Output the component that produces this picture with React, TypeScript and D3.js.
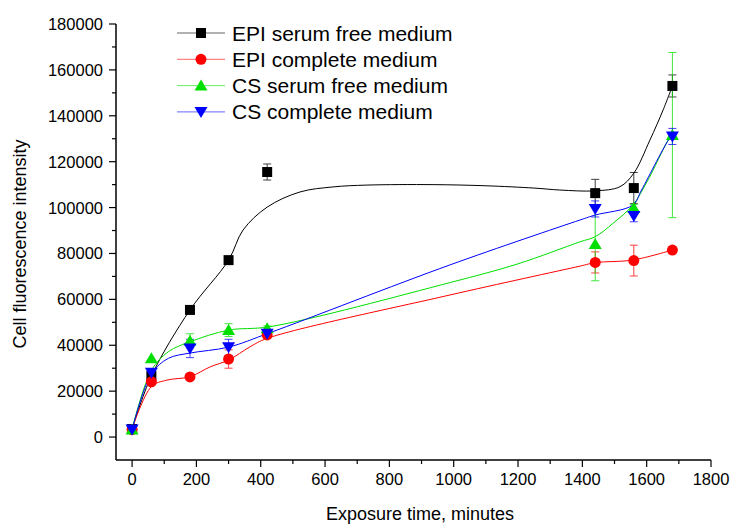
import React from "react";
import * as d3 from "d3";

// ---- data ----
const times = [0, 60, 180, 300, 420, 1440, 1560, 1680];

const epiSerumFree = [3500, 26600, 55400, 77100, 115500, 106300, 108500, 153000];
const epiSerumFreeErr = [0, 0, 0, 0, 3500, 6000, 6800, 4800];
const epiComplete = [3200, 24100, 26200, 34000, 44500, 76100, 76900, 81500];
const epiCompleteErr = [0, 0, 1000, 4000, 1500, 4600, 6700, 0];
const csSerumFree = [3300, 34300, 42000, 46600, 47400, 84100, 99800, 131600];
const csSerumFreeErr = [0, 0, 3000, 2800, 1000, 16000, 1500, 36000];
const csComplete = [3300, 28000, 38600, 39100, 45000, 99400, 96300, 131000];
const csCompleteErr = [0, 0, 4000, 3500, 1500, 3500, 2500, 3500];

// smoothed fit curves as drawn in the reference
const epiSerumFreeFitX = [0, 60, 180, 300, 345, 420, 522, 625, 730, 936, 1100, 1250, 1330, 1440, 1517, 1560, 1610, 1651, 1680];
const epiSerumFreeFitY = [3500, 26600, 55400, 77100, 90200, 100200, 106800, 109000, 109800, 110000, 109500, 108500, 107650, 107300, 109100, 115000, 129400, 142500, 153000];
const epiCompleteFitX = [0, 60, 108, 180, 243, 300, 367, 420, 988, 1393, 1440, 1557, 1680];
const epiCompleteFitY = [3500, 22000, 24800, 26300, 30600, 33550, 39350, 43000, 61900, 74500, 76000, 77150, 81500];
const csSerumFreeFitX = [0, 60, 113, 180, 300, 429, 988, 1200, 1393, 1440, 1495, 1557, 1604, 1672, 1680];
const csSerumFreeFitY = [3500, 29000, 37200, 41500, 46600, 48100, 67300, 75500, 85100, 87300, 93100, 101100, 112000, 130600, 131600];
const csCompleteFitX = [0, 60, 113, 180, 300, 429, 988, 1393, 1440, 1557, 1584, 1672, 1680];
const csCompleteFitY = [3300, 27500, 34300, 36600, 39200, 45500, 75000, 94600, 96750, 101100, 107650, 130200, 131000];

const seriesNames = ["EPI serum free medium", "EPI complete medium", "CS serum free medium", "CS complete medium"];
const seriesColors = ["#000000", "#ff0000", "#00e000", "#0000ff"];
const seriesSymbols = ["square", "circle", "triangle", "triangleDown"];

const xTicks = [0, 200, 400, 600, 800, 1000, 1200, 1400, 1600, 1800];
const xMinor = [100, 300, 500, 700, 900, 1100, 1300, 1500, 1700];
const yTicks = [0, 20000, 40000, 60000, 80000, 100000, 120000, 140000, 160000, 180000];
const yMinor = [10000, 30000, 50000, 70000, 90000, 110000, 130000, 150000, 170000];

const xTitle = "Exposure time, minutes";
const yTitle = "Cell fluorescence intensity";

const W = 732;
const H = 524;
const FONT = "Liberation Sans, Arial, sans-serif";

function Marker({ kind, cx, cy, color }: { kind: string; cx: number; cy: number; color: string }) {
  if (kind === "square") return <rect x={cx - 5} y={cy - 5} width={10} height={10} fill={color} />;
  if (kind === "circle") return <circle cx={cx} cy={cy} r={5.5} fill={color} />;
  if (kind === "triangle")
    return <path d={`M${cx},${cy - 6} L${cx + 6.5},${cy + 5} L${cx - 6.5},${cy + 5} Z`} fill={color} />;
  return <path d={`M${cx},${cy + 6} L${cx + 6.5},${cy - 5} L${cx - 6.5},${cy - 5} Z`} fill={color} />;
}

export default function App() {
  const x = d3.scaleLinear().domain([-50, 1800]).range([116, 711]);
  const y = d3.scaleLinear().domain([-10000, 180000]).range([460, 24]);

  const values = [epiSerumFree, epiComplete, csSerumFree, csComplete];
  const errs = [epiSerumFreeErr, epiCompleteErr, csSerumFreeErr, csCompleteErr];
  const fitsX = [epiSerumFreeFitX, epiCompleteFitX, csSerumFreeFitX, csCompleteFitX];
  const fitsY = [epiSerumFreeFitY, epiCompleteFitY, csSerumFreeFitY, csCompleteFitY];

  const line = d3
    .line<[number, number]>()
    .x((d) => x(d[0]))
    .y((d) => y(d[1]))
    .curve(d3.curveCatmullRom.alpha(0.5));

  const x0 = x.range()[0];
  const y0 = y.range()[0];

  return (
    <svg width={W} height={H} style={{ position: "absolute", left: 0, top: 0, background: "#fff" }}>
      {/* curves */}
      {values.map((_, si) => (
        <path
          key={"fit" + si}
          d={line(fitsX[si].map((t, i) => [t, fitsY[si][i]] as [number, number])) || ""}
          fill="none"
          stroke={seriesColors[si]}
          strokeWidth={1}
        />
      ))}
      {/* error bars */}
      {values.map((vals, si) => (
        <g key={"err" + si} stroke={seriesColors[si]} strokeWidth={1} opacity={0.75}>
          {times.map((t, i) => {
            const e = errs[si][i];
            if (!e) return null;
            const cx = x(t);
            const yt = y(vals[i] + e);
            const yb = y(vals[i] - e);
            return (
              <g key={i}>
                <line x1={cx} x2={cx} y1={yt} y2={yb} />
                <line x1={cx - 4} x2={cx + 4} y1={yt} y2={yt} />
                <line x1={cx - 4} x2={cx + 4} y1={yb} y2={yb} />
              </g>
            );
          })}
        </g>
      ))}
      {/* markers */}
      {values.map((vals, si) => (
        <g key={"mk" + si}>
          {times.map((t, i) => (
            <Marker key={i} kind={seriesSymbols[si]} cx={x(t)} cy={y(vals[i])} color={seriesColors[si]} />
          ))}
        </g>
      ))}

      {/* axes */}
      <line x1={x0} x2={x.range()[1]} y1={y0} y2={y0} stroke="#000" strokeWidth={1.5} />
      <line x1={x0} x2={x0} y1={y0} y2={y.range()[1]} stroke="#000" strokeWidth={1.5} />
      {xTicks.map((t) => (
        <g key={"xt" + t}>
          <line x1={x(t)} x2={x(t)} y1={y0} y2={y0 + 7} stroke="#000" strokeWidth={1.2} />
          <text x={x(t)} y={y0 + 25} textAnchor="middle" fontFamily={FONT} fontSize={16.5} fill="#000">
            {t}
          </text>
        </g>
      ))}
      {xMinor.map((t) => (
        <line key={"xm" + t} x1={x(t)} x2={x(t)} y1={y0} y2={y0 + 4} stroke="#000" strokeWidth={1.2} />
      ))}
      {yTicks.map((t) => (
        <g key={"yt" + t}>
          <line x1={x0} x2={x0 - 7} y1={y(t)} y2={y(t)} stroke="#000" strokeWidth={1.2} />
          <text x={x0 - 13} y={y(t) + 6} textAnchor="end" fontFamily={FONT} fontSize={16.5} fill="#000">
            {t}
          </text>
        </g>
      ))}
      {yMinor.map((t) => (
        <line key={"ym" + t} x1={x0} x2={x0 - 4} y1={y(t)} y2={y(t)} stroke="#000" strokeWidth={1.2} />
      ))}

      {/* titles */}
      <text x={420} y={520} textAnchor="middle" fontFamily={FONT} fontSize={18} fill="#000">
        {xTitle}
      </text>
      <text
        transform={`translate(26,244) rotate(-90)`}
        textAnchor="middle"
        fontFamily={FONT}
        fontSize={18}
        fill="#000"
      >
        {yTitle}
      </text>

      {/* legend */}
      {seriesNames.map((name, si) => {
        const ly = 33 + si * 26.3;
        return (
          <g key={"lg" + si}>
            <line x1={177} x2={225} y1={ly} y2={ly} stroke={seriesColors[si]} strokeWidth={1} opacity={0.6} />
            <Marker kind={seriesSymbols[si]} cx={201} cy={ly} color={seriesColors[si]} />
            <text x={232} y={ly + 7.5} fontFamily={FONT} fontSize={21} fill="#000">
              {name}
            </text>
          </g>
        );
      })}
    </svg>
  );
}
